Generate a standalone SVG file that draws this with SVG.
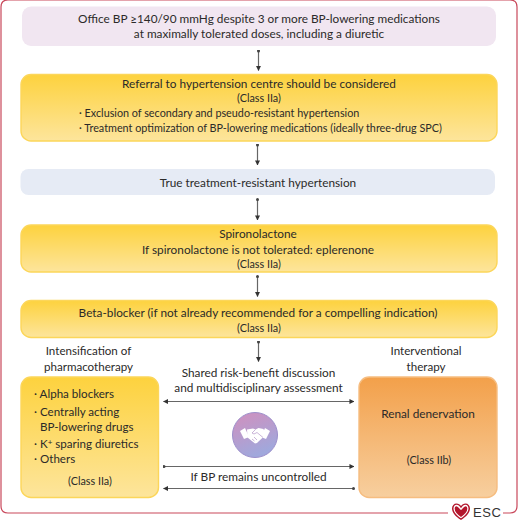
<svg xmlns="http://www.w3.org/2000/svg" width="518" height="520" viewBox="0 0 518 520">
<style>
text{font-family:"Lato","Liberation Sans",sans-serif;font-size:11.8px;fill:#2b2a29;text-anchor:middle}
text.l{text-anchor:start}
text.b{font-size:10.8px}
text.s{font-size:10.8px}
text.m{font-size:11.6px}
.c{stroke:#666;stroke-width:1.2;fill:none}
.yb{fill:url(#gy);stroke:#fcd65a;stroke-width:1.4}
</style>
<defs>
<linearGradient id="gy" x1="0" y1="0" x2="0" y2="1"><stop offset="0" stop-color="#fdd23e"/><stop offset="1" stop-color="#fde59c"/></linearGradient>
<linearGradient id="go" x1="0" y1="0" x2="0" y2="1"><stop offset="0" stop-color="#f3a04a"/><stop offset="1" stop-color="#f7cf9f"/></linearGradient>
<linearGradient id="gc" x1="0" y1="0" x2="0.4" y2="1"><stop offset="0" stop-color="#d28fbd"/><stop offset="1" stop-color="#a0a8dc"/></linearGradient>
<marker id="a" viewBox="0 0 6 6" refX="5.500" refY="3" markerWidth="5" markerHeight="5" markerUnits="userSpaceOnUse" orient="auto-start-reverse"><path d="M0 0L6 3L0 6Z" fill="#333"/></marker>
<marker id="d" viewBox="0 0 4 4" refX="2" refY="2" markerWidth="3" markerHeight="3" markerUnits="userSpaceOnUse"><circle cx="2" cy="2" r="2" fill="#444"/></marker>
</defs>
<path id="frame" d="M448 513H8Q1 513 1 506V7Q1 0 8 0H510Q517 0 517 7V506Q517 513 510 513H503" fill="none" stroke="#c9485b" stroke-width="1.2"/>
<g id="n1"><rect x="22" y="6.500" width="474" height="39.500" rx="9" fill="#f1e6f1"/>
<text x="259" y="22.500">Office BP ≥140/90 mmHg despite 3 or more BP-lowering medications</text>
<text x="259" y="38">at maximally tolerated doses, including a diuretic</text></g>
<g id="n2"><rect x="21" y="74.500" width="476" height="66.500" rx="10" class="yb"/>
<text x="259" y="88">Referral to hypertension centre should be considered</text>
<text class="s" x="259" y="101.500">(Class IIa)</text>
<text class="l b" x="79" y="117">· Exclusion of secondary and pseudo-resistant hypertension</text>
<text class="l b" x="79" y="132">· Treatment optimization of BP-lowering medications (ideally three-drug SPC)</text></g>
<g id="n3"><rect x="20.500" y="169" width="474.500" height="26" rx="8" fill="#e6ebf5"/>
<text x="258" y="187">True treatment-resistant hypertension</text></g>
<g id="n4"><rect x="21" y="225" width="476" height="47" rx="10" class="yb"/>
<text x="258" y="238">Spironolactone</text>
<text x="258" y="253.500">If spironolactone is not tolerated: eplerenone</text>
<text class="s" x="259" y="268">(Class IIa)</text></g>
<g id="n5"><rect x="21" y="300.500" width="476" height="37" rx="10" class="yb"/>
<text x="258" y="317">Beta-blocker (if not already recommended for a compelling indication)</text>
<text class="s" x="259" y="332">(Class IIa)</text></g>
<g id="n6"><text class="m" x="88.500" y="355">Intensification of</text><text class="m" x="88.500" y="371">pharmacotherapy</text></g>
<g id="n7"><rect x="21" y="377" width="137.500" height="120.500" rx="10" class="yb"/>
<text class="l m" x="34" y="398">· Alpha blockers</text>
<text class="l m" x="34" y="415.500">· Centrally acting</text>
<text class="l m" x="40" y="430.500">BP-lowering drugs</text>
<text class="l m" x="34" y="448">· K<tspan dy="-3" font-size="8">+</tspan><tspan dy="3"> sparing diuretics</tspan></text>
<text class="l m" x="34" y="463">· Others</text>
<text class="s" x="90" y="484.500">(Class IIa)</text></g>
<g id="n8"><text class="m" x="426" y="355">Interventional</text><text class="m" x="426" y="371">therapy</text></g>
<g id="n9"><rect x="359" y="377" width="138" height="120.500" rx="10" fill="url(#go)" stroke="#f6bd80" stroke-width="1.4"/>
<text x="428" y="418">Renal denervation</text>
<text class="s" x="429" y="464">(Class IIb)</text></g>
<g id="n10"><text x="258.500" y="377">Shared risk-benefit discussion</text><text x="258.500" y="392">and multidisciplinary assessment</text></g>
<g id="n11"><circle cx="255" cy="435" r="22.500" fill="url(#gc)" stroke="#9c8fcb" stroke-width="1"/>
<path d="M240 431l5-3 4 9-5 2zM270 431l-5-3-4 9 5 2z" fill="#fff"/>
<path d="M247 429.500l6-1 2.500 1 3-1.500 5 1 2 6-7 6.500-1.500 1.500-2 .5-7.500-6z" fill="#fff"/>
<path d="M255.500 429.500l-3.500 3.500 2 1 3-1.500 6 5M254 437l3 3M252 439l2.500 2" fill="none" stroke="#b596c8" stroke-width=".7"/></g>
<g id="n12"><text x="258.500" y="480.500">If BP remains uncontrolled</text></g>
<g id="connectors">
<path class="c" d="M258.500 51V70.500" marker-start="url(#d)" marker-end="url(#a)"/>
<path class="c" d="M257.500 145V165" marker-start="url(#d)" marker-end="url(#a)"/>
<path class="c" d="M257.500 199.500V220" marker-start="url(#d)" marker-end="url(#a)"/>
<path class="c" d="M257.500 276.500V296.500" marker-start="url(#d)" marker-end="url(#a)"/>
<path class="c" d="M258.500 342V361.500" marker-start="url(#d)" marker-end="url(#a)"/>
<path class="c" d="M163.500 401.500H354" marker-start="url(#a)" marker-end="url(#a)"/>
<path class="c" d="M164 466.500H354" marker-start="url(#d)" marker-end="url(#a)"/>
<path class="c" d="M353.500 488.500H163.500" marker-start="url(#d)" marker-end="url(#a)"/>
</g>
<g id="logo"><path d="M461 520c-5.500-3.500-9-7.500-9-11.500 0-3 2-5 4.500-5 2 0 3.500 1 4.500 2.500 1-1.500 2.500-2.500 4.500-2.500 2.500 0 4.500 2 4.500 5 0 4-3.500 8-9 11.500z" fill="#b3162c"/>
<path d="M461 518.300c-4.500-3-7.500-6.500-7.500-9.800 0-2.200 1.300-3.700 3-3.700 1.800 0 3.500 1.800 4.500 3.400 1-1.600 2.700-3.400 4.500-3.400 1.700 0 3 1.500 3 3.700 0 3.300-3 6.800-7.500 9.800z" fill="#fff"/>
<path d="M461 517c-3.700-2.500-6.300-5.500-6.300-8.300 0-1.300.6-2.500 1.600-2.500 1.600 0 3.300 3 4.700 3.800 1.400-.8 3.100-3.800 4.700-3.800 1 0 1.600 1.200 1.600 2.500 0 2.800-2.600 5.800-6.300 8.300z" fill="#b3162c"/>
<text class="l" x="473" y="517" style="font:13px 'Liberation Sans',sans-serif;fill:#333;letter-spacing:.6px">ESC</text></g>
</svg>
